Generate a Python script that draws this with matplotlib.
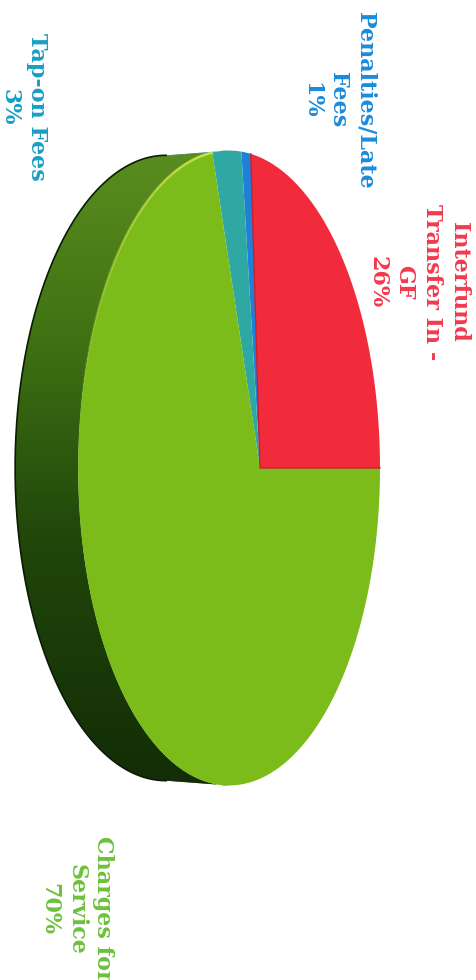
import numpy as np
import matplotlib.pyplot as plt

from matplotlib.patches import Polygon
from matplotlib.colors import LinearSegmentedColormap
from matplotlib.collections import LineCollection

# revenue split, percent
names  = ["Interfund\nTransfer In -\nGF", "Penalties/Late\nFees", "Tap-on Fees", "Charges for\nService"]
shares = [26, 1, 3, 70]

face_colors  = ["#f22b3c", "#1f80d8", "#2fa8a4", "#7bbb1a"]
side_colors  = ["#9a1822", "#12508a", "#1d6f6a", "#3d6e12"]
label_colors = ["#f3394d", "#1a8cdc", "#1a9ec4", "#6cc13a"]
label_pos    = [(418, 282), (338, 100), (23, 107), (76, 909)]

# page is turned on its side: the far rim of the pie points right, the thickness goes left
cx, cy    = 260, 468
far_scale = 144.6
across    = 310.7
tilt      = 0.205
depth     = 63
start     = 90.0


def project(theta, shift=0.0, squeeze=1.0):
    p = np.cos(theta)
    q = np.sin(theta)
    w = 1 + tilt * q
    return np.column_stack([cx + far_scale * q / w - shift, cy + squeeze * across * p / w])


def arc(a0, a1, shift=0.0, squeeze=1.0):
    n = max(4, int(abs(a1 - a0) * 2))
    return project(np.radians(np.linspace(a0, a1, n)), shift, squeeze)


fig = plt.figure(figsize=(4.76, 9.8), dpi=100)
ax = fig.add_axes([0, 0, 1, 1])
ax.set_xlim(0, 476)
ax.set_ylim(980, 0)
ax.axis("off")

bounds = start + 3.6 * np.concatenate([[0], np.cumsum(shares)])

# the silhouette of the side wall runs between the two extreme points of the rim
edge = np.degrees(np.arcsin(tilt))
side_lo, side_hi = 180 + edge, 360 - edge
base_squeeze = 0.985

green_side = LinearSegmentedColormap.from_list(
    "side", [(0.0, "#5c8f1f"), (0.3, "#3f7213"), (0.6, "#21470b"), (1.0, "#122b06")])

for i in range(len(shares)):
    a0, a1 = bounds[i], bounds[i + 1]
    lo, hi = max(a0, side_lo), min(a1, side_hi)
    if hi <= lo:
        continue
    top = arc(lo, hi)
    bottom = arc(lo, hi, depth, base_squeeze)[::-1]
    wall = Polygon(np.vstack([top, bottom]), closed=True, facecolor=side_colors[i],
                   edgecolor="none", zorder=1)
    ax.add_patch(wall)
    if i == len(shares) - 1:
        grad = np.linspace(0, 1, 256).reshape(-1, 1)
        img = ax.imshow(grad, cmap=green_side, aspect="auto", extent=[0, 476, 800, 140],
                        zorder=1.5)
        img.set_clip_path(wall)

# dark outer edge of the wall
ax.plot(*arc(side_lo, side_hi, depth, base_squeeze).T, color="#0b1c04", lw=1.2, zorder=2)

for i in range(len(shares)):
    pts = np.vstack([[cx, cy], arc(bounds[i], bounds[i + 1])])
    ax.add_patch(Polygon(pts, closed=True, facecolor=face_colors[i], edgecolor="none", zorder=3))

# thin darker seam along the straight edges of the red slice
seam = np.vstack([arc(bounds[1], bounds[1])[:1], [[cx, cy]], arc(bounds[0], bounds[0])[:1]])
ax.plot(seam[:, 0], seam[:, 1], color="#c8202c", lw=1.0, zorder=4)

# light glint on the near rim
rim = arc(bounds[3], 262)
segs = np.stack([rim[:-1], rim[1:]], axis=1)
glint = np.zeros((len(segs), 4))
glint[:, :3] = (0.84, 0.93, 0.33)
glint[:, 3] = np.linspace(0.95, 0.0, len(segs))
ax.add_collection(LineCollection(segs, colors=glint, linewidths=1.8, zorder=4))

for name, share, color, (x, y) in zip(names, shares, label_colors, label_pos):
    ax.text(x, y, f"{name}\n{share}%", color=color, rotation=-90, ha="center", va="center",
            multialignment="center", family="DejaVu Serif", weight="bold", fontsize=16,
            linespacing=1.3, zorder=5)

fig.savefig("out.png", dpi=100, facecolor="white")
